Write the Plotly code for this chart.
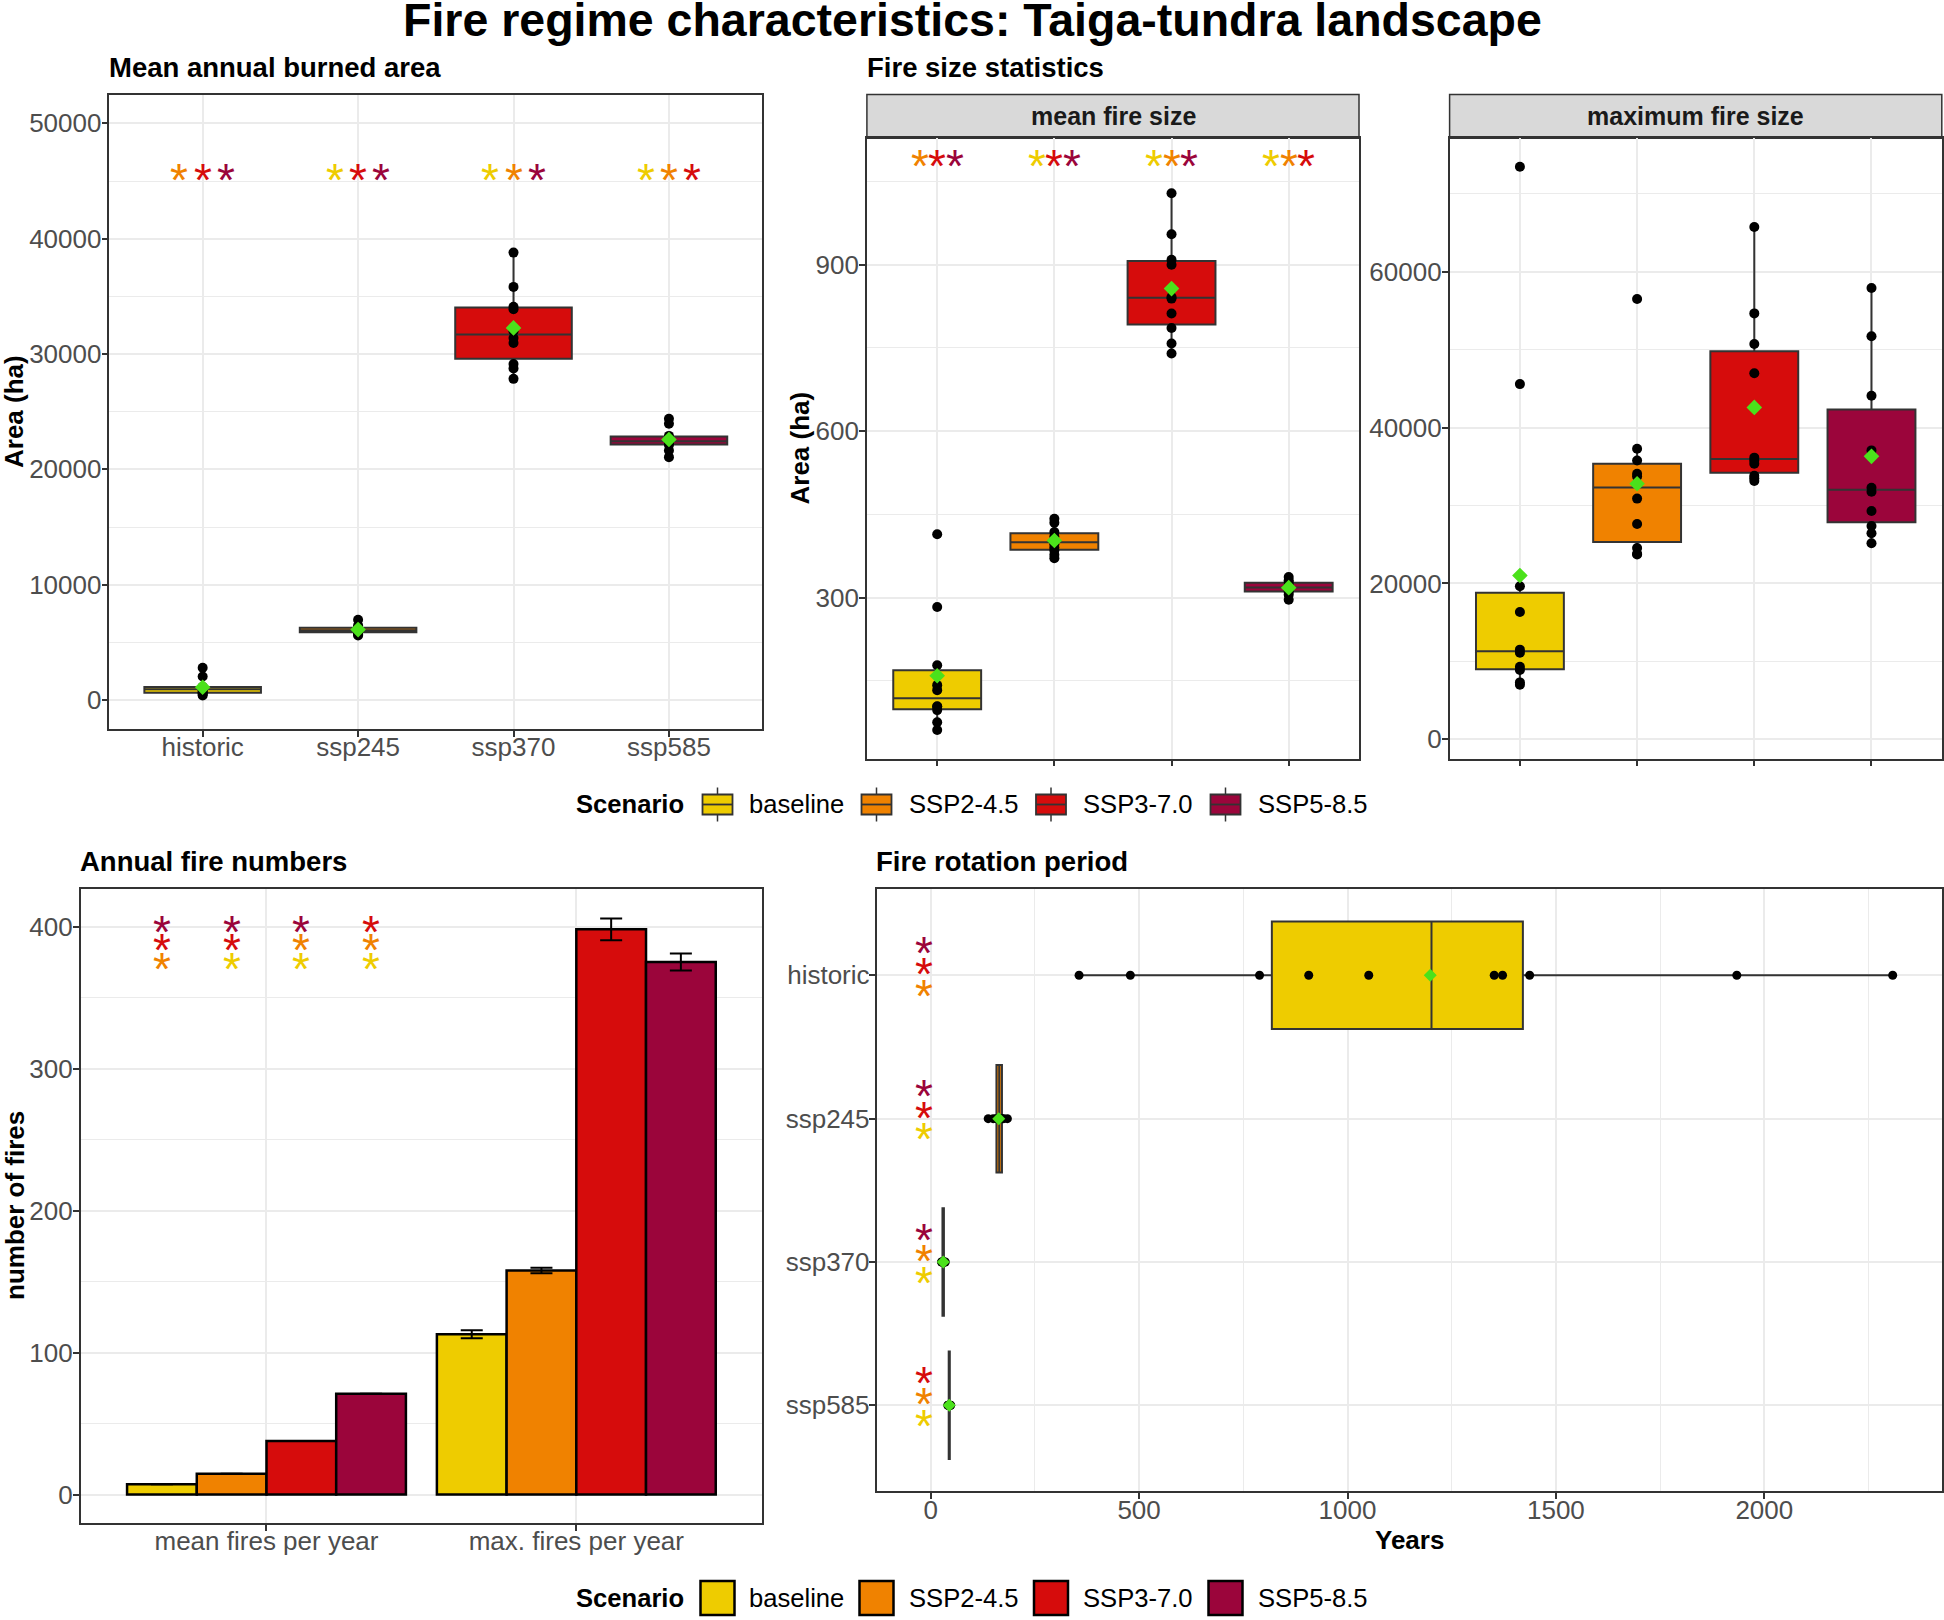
import numpy as np
import plotly.graph_objects as go

# ---- data ----
scenarios = ['baseline', 'SSP2-4.5', 'SSP3-7.0', 'SSP5-8.5']
periods = ['historic', 'ssp245', 'ssp370', 'ssp585']
colors = ['#EECC00', '#F08200', '#D60C0C', '#9B053B']

# one list of 10 replicate values per scenario
burned_area = [
    [390, 520, 610, 700, 850, 1000, 1060, 1150, 2038, 2793],
    [5594, 5700, 5850, 5950, 6000, 6100, 6150, 6300, 6450, 6956],
    [27845, 28750, 29138, 30948, 31379, 31983, 33879, 34095, 35819, 38793],
    [21058, 21640, 22100, 22300, 22400, 22450, 22700, 22900, 23955, 24388],
]
mean_fire_size = [
    [61, 75, 97, 103, 104, 133, 142, 178, 283, 414],
    [371, 377, 385, 390, 396, 403, 410, 418, 435, 442],
    [740, 758, 786, 812, 839, 842, 900, 909, 955, 1029],
    [296, 305, 310, 313, 316, 320, 322, 328, 331, 337],
]
max_fire_size = [
    [7000, 7300, 8900, 9300, 11100, 11500, 16340, 19639, 45567, 73454],
    [23700, 23800, 24536, 27629, 30876, 33711, 34072, 35773, 37268, 56495],
    [33144, 33502, 33814, 35361, 35773, 36134, 46959, 50722, 54639, 65722],
    [25155, 26443, 27371, 29278, 31753, 32268, 37062, 44072, 51701, 57887],
]
rotation_years = [
    [356, 479, 789, 907, 1051, 1352, 1372, 1437, 1934, 2308],
    [138, 150, 157, 160, 163, 166, 168, 172, 175, 184],
    [26, 27, 28, 29, 30, 30.5, 31, 32, 33, 35],
    [41, 42, 43, 44, 44.5, 45, 45.5, 46, 47, 48],
]

fire_metrics = ['mean fires per year', 'max. fires per year']
fires_per_year = [[7.2, 112.9], [14.7, 157.8], [37.7, 398.2], [71.0, 375.2]]
fires_err = [[None, 2.8], [None, 1.9], [None, 7.7], [None, 6.0]]

# significant differences: for each scenario, the scenarios it differs from
sig_pairs = [[1, 2, 3], [0, 2, 3], [0, 1, 3], [0, 1, 2]]

# ---- helpers ----
W, H = 1944, 1620
FONT = 'Liberation Sans, Arial, sans-serif'
GREEN = '#4BE11B'
EDGE = '#333333'


def dx(a, b):
    return [a / W, b / W]


def dy(top, bottom):
    return [1 - bottom / H, 1 - top / H]


def box_stats(vals):
    v = np.sort(np.asarray(vals, dtype=float))
    q1, med, q3 = np.percentile(v, [25, 50, 75])
    iqr = q3 - q1
    lo = v[v >= q1 - 1.5 * iqr].min()
    hi = v[v <= q3 + 1.5 * iqr].max()
    return q1, med, q3, lo, hi


def axis(standoff, **kw):
    a = dict(showline=True, mirror=True, linecolor=EDGE, linewidth=1.5,
             ticks='outside', ticklen=6, tickcolor=EDGE, tickwidth=1.5,
             showgrid=True, gridcolor='#EBEBEB', gridwidth=1.8, zeroline=False,
             tickformat='d', ticklabelstandoff=standoff,
             tickfont=dict(size=26, color='#4D4D4D', family=FONT))
    a.update(kw)
    return a


def minor(step):
    return dict(dtick=step, tick0=0, showgrid=True, gridcolor='#EBEBEB', gridwidth=1)


fig = go.Figure()


def add_boxes(data, xa, ya, horizontal=False, pos=None, psize=10, msize=12):
    for i, vals in enumerate(data):
        p = i if pos is None else pos[i]
        q1, med, q3, lo, hi = box_stats(vals)
        kw = dict(q1=[q1], median=[med], q3=[q3], lowerfence=[lo], upperfence=[hi],
                  width=0.75, fillcolor=colors[i], line=dict(color=EDGE, width=2),
                  whiskerwidth=0, boxpoints=False, name=scenarios[i],
                  showlegend=False, xaxis=xa, yaxis=ya, hoverinfo='skip')
        if horizontal:
            fig.add_trace(go.Box(y=[p], orientation='h', **kw))
        else:
            fig.add_trace(go.Box(x=[p], **kw))
    for i, vals in enumerate(data):
        p = i if pos is None else pos[i]
        pts = [p] * len(vals)
        xs, ys = (vals, pts) if horizontal else (pts, vals)
        fig.add_trace(go.Scatter(x=xs, y=ys, mode='markers', showlegend=False,
                                 marker=dict(color='black', size=psize),
                                 xaxis=xa, yaxis=ya, hoverinfo='skip'))
    for i, vals in enumerate(data):
        p = i if pos is None else pos[i]
        m = float(np.mean(vals))
        xs, ys = ([m], [p]) if horizontal else ([p], [m])
        fig.add_trace(go.Scatter(x=xs, y=ys, mode='markers', showlegend=False,
                                 marker=dict(color=GREEN, size=msize, symbol='diamond'),
                                 xaxis=xa, yaxis=ya, hoverinfo='skip'))


add_boxes(burned_area, 'x', 'y')
add_boxes(mean_fire_size, 'x2', 'y2')
add_boxes(max_fire_size, 'x3', 'y3')
add_boxes(rotation_years, 'x5', 'y5', horizontal=True, pos=[3, 2, 1, 0], psize=9, msize=10)

for i, s in enumerate(scenarios):
    fig.add_trace(go.Bar(x=[0, 1], y=fires_per_year[i], name=s, showlegend=False,
                         marker=dict(color=colors[i], line=dict(color='black', width=2.5)),
                         error_y=dict(type='data', array=fires_err[i], color='black',
                                      thickness=2, width=11),
                         xaxis='x4', yaxis='y4', hoverinfo='skip'))

# ---- significance asterisks ----
AST = 46
ann = []


def star(x, y, color, xref, yref):
    ann.append(dict(x=x, y=y, xref=xref, yref=yref, text='*', showarrow=False,
                    font=dict(size=AST, color=color, family=FONT),
                    xanchor='center', yanchor='middle', yshift=-8))


for i in range(4):
    for k, j in enumerate(sig_pairs[i]):
        star(i + (k - 1) * 0.15, 45741, colors[j], 'x', 'y')
        star(i + (k - 1) * 0.15, 1092, colors[j], 'x2', 'y2')
        star((i - 1.5) * 0.225, [376, 389, 402][k], colors[j], 'x4', 'y4')
        star(-16, [3, 2, 1, 0][i] + [-0.088, 0.062, 0.2125][k], colors[j], 'x5', 'y5')


def text(x, y, t, size=26, bold=True, xanchor='left', angle=0, color='black'):
    ann.append(dict(x=x / W, y=1 - y / H, xref='paper', yref='paper',
                    text=f'<b>{t}</b>' if bold else t, showarrow=False,
                    xanchor=xanchor, yanchor='middle', textangle=angle,
                    font=dict(size=size, color=color, family=FONT)))


text(972, 20, 'Fire regime characteristics: Taiga-tundra landscape', size=46.5, xanchor='center')
text(107, 67, 'Mean annual burned area', size=27.5)
text(865, 67, 'Fire size statistics', size=27.5)
text(78, 861.4, 'Annual fire numbers', size=27.5)
text(874, 861.4, 'Fire rotation period', size=27.5)
text(14, 412, 'Area (ha)', xanchor='center', angle=-90)
text(799, 448.5, 'Area (ha)', xanchor='center', angle=-90)
text(15, 1206, 'number of fires', xanchor='center', angle=-90)
text(1409, 1539.5, 'Years', xanchor='center')
text(1113, 116.4, 'mean fire size', size=25, xanchor='center', color='#1A1A1A')
text(1695.7, 116.4, 'maximum fire size', size=25, xanchor='center', color='#1A1A1A')

shapes = []
for a, b in [(866.9, 1359), (1449.6, 1941.8)]:
    shapes.append(dict(type='rect', xref='paper', yref='paper', x0=a / W, x1=b / W,
                       y0=1 - 138.3 / H, y1=1 - 94.5 / H, fillcolor='#D9D9D9',
                       line=dict(color=EDGE, width=1.5), layer='below'))


# ---- legends (boxplot keys on top row, bar keys on bottom row) ----
def rect(x0, x1, y0, y1, fill, line, lw):
    shapes.append(dict(type='rect', xref='paper', yref='paper',
                       x0=x0 / W, x1=x1 / W, y0=1 - y1 / H, y1=1 - y0 / H,
                       fillcolor=fill, line=dict(color=line, width=lw)))


def seg(x0, y0, x1, y1, color, lw):
    shapes.append(dict(type='line', xref='paper', yref='paper',
                       x0=x0 / W, x1=x1 / W, y0=1 - y0 / H, y1=1 - y1 / H,
                       line=dict(color=color, width=lw)))


key_centers = [717.5, 876.5, 1051, 1225.5]
label_left = [750, 910, 1084, 1258.7]
for row_y, kind in [(804.5, 'box'), (1598, 'bar')]:
    text(574, row_y, 'Scenario', size=25.6)
    for i, s in enumerate(scenarios):
        c = key_centers[i]
        if kind == 'box':
            seg(c, row_y - 17, c, row_y + 17, EDGE, 1.5)
            rect(c - 15, c + 15, row_y - 10, row_y + 10, colors[i], EDGE, 1.8)
            seg(c - 15, row_y, c + 15, row_y, EDGE, 1.8)
        else:
            rect(c - 17, c + 17, row_y - 17, row_y + 17, colors[i], 'black', 2.5)
        text(label_left[i] - 3, row_y, s, size=25.6, bold=False)

fig.update_layout(
    width=W, height=H, margin=dict(l=0, r=0, t=0, b=0),
    paper_bgcolor='white', plot_bgcolor='white',
    font=dict(family=FONT), showlegend=False,
    barmode='group', bargap=0.1, bargroupgap=0,
    annotations=ann, shapes=shapes,
    xaxis=axis(-12, domain=dx(109.4, 762.2), anchor='y', range=[-0.6, 3.6],
               tickvals=[0, 1, 2, 3], ticktext=periods),
    yaxis=axis(-5, domain=dy(94.5, 729), anchor='x', range=[-2515, 52500],
               tick0=0, dtick=10000, minor=minor(5000)),
    xaxis2=axis(0, domain=dx(866.9, 1359), anchor='y2', range=[-0.6, 3.6],
                tickvals=[0, 1, 2, 3], showticklabels=False),
    yaxis2=axis(-5, domain=dy(138.3, 758.7), anchor='x2', range=[9.4, 1128],
                tick0=0, dtick=300, minor=minor(150)),
    xaxis3=axis(0, domain=dx(1449.6, 1941.8), anchor='y3', range=[-0.6, 3.6],
                tickvals=[0, 1, 2, 3], showticklabels=False),
    yaxis3=axis(-5, domain=dy(138.3, 758.7), anchor='x3', range=[-2489, 77100],
                tick0=0, dtick=20000, minor=minor(10000)),
    xaxis4=axis(-12, domain=dx(80.6, 762.2), anchor='y4', range=[-0.6, 1.6],
                tickvals=[0, 1], ticktext=fire_metrics),
    yaxis4=axis(-5, domain=dy(889.3, 1522.9), anchor='x4', range=[-20, 426.4],
                tick0=0, dtick=100, minor=minor(50)),
    xaxis5=axis(-11, domain=dx(876.5, 1941.8), anchor='y5', range=[-130, 2425.8],
                tick0=0, dtick=500, minor=minor(250)),
    yaxis5=axis(-6, domain=dy(889.3, 1491.3), anchor='x5', range=[-0.6, 3.6],
                tickvals=[3, 2, 1, 0], ticktext=periods),
)

# drop the browser's default 8px body margin so the figure sits at the page origin
fig.write_html('out.html', config={'displayModeBar': False},
               post_script="document.body.style.margin='0px';")
